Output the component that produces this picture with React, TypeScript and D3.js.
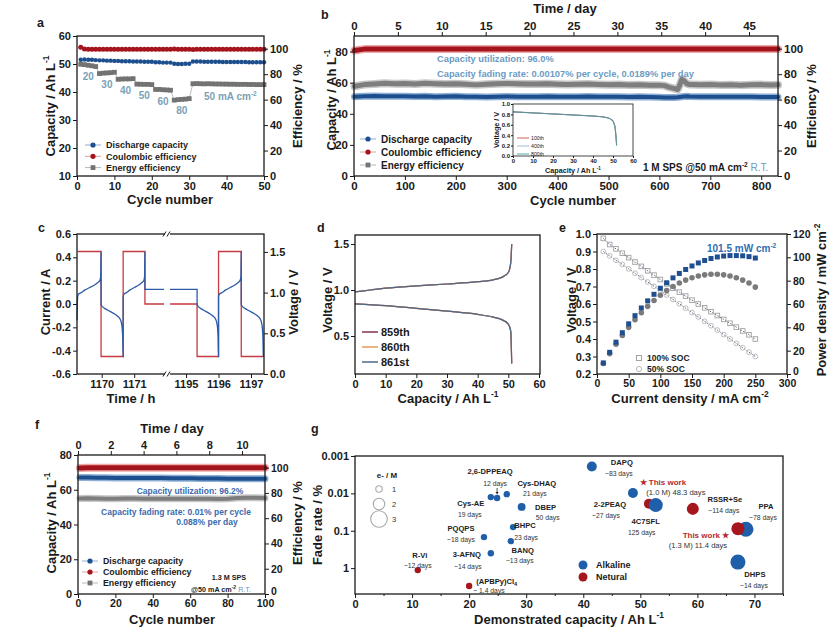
import React, { useEffect, useRef } from "react";
import * as d3 from "d3";

const FONT = "'Liberation Sans', Arial, Helvetica, sans-serif";
const INK = "#1a1a1a";
const BLUE = "#1d4f8e";
const RED = "#a3141c";
const GRAY = "#737373";
const NOTE = "#6b9bc3";
const NOTE_DARK = "#3a69ae";
const ALK = "#1f5ea8";
const NEU = "#a5161d";

// ---- a: rate capability (cycles 1-50)
const aCycles = d3.range(1, 51);
const aCapacity = [
  51.5, 51.6, 51.5, 51.5, 51.4, 51.3, 51.3, 51.2, 51.2, 51.1,
  51.1, 51.0, 51.0, 51.0, 50.9, 50.9, 50.9, 50.8, 50.8, 50.8,
  50.6, 50.6, 50.5, 50.5, 50.5, 50.1, 50.0, 50.0, 50.1, 50.1,
  50.9, 50.9, 50.9, 50.8, 50.8, 50.8, 50.8, 50.8, 50.7, 50.7,
  50.7, 50.7, 50.7, 50.7, 50.7, 50.6, 50.6, 50.6, 50.6, 50.6,
];
const aCoulombic = [
  101.2, 99.8, 99.6, 99.6, 99.5, 99.5, 99.5, 99.6, 99.5, 99.5,
  99.5, 99.5, 99.6, 99.5, 99.5, 99.5, 99.5, 99.5, 99.6, 99.5,
  99.5, 99.6, 99.5, 99.5, 99.5, 99.7, 99.6, 99.6, 99.6, 99.6,
  99.4, 99.5, 99.5, 99.5, 99.5, 99.5, 99.5, 99.5, 99.5, 99.5,
  99.5, 99.5, 99.5, 99.5, 99.5, 99.5, 99.5, 99.5, 99.5, 99.5,
];
const aEnergy = [
  87.8, 87.5, 87.0, 86.6, 86.0, 80.5, 80.8, 81.0, 81.2, 81.5,
  76.0, 76.2, 76.3, 76.3, 76.5, 72.2, 72.1, 72.0, 72.0, 71.8,
  68.0, 68.0, 67.8, 67.6, 67.4, 59.6, 60.0, 60.2, 60.4, 60.8,
  72.5, 72.6, 72.5, 72.4, 72.5, 72.4, 72.3, 72.3, 72.2, 72.2,
  72.1, 72.1, 72.0, 72.0, 72.0, 71.9, 71.9, 71.8, 71.8, 71.8,
];
const aRateLabels = ["20", "30", "40", "50", "60", "80"];
const aRateAt = [3, 8, 13, 18, 23, 28];

// ---- b: long-term cycling, 1 M SPS
const bCycles = [
  1, 20, 40, 60, 80, 100, 120, 140, 160, 180,
  200, 220, 240, 260, 280, 300, 320, 340, 360, 380,
  400, 420, 440, 460, 480, 500, 520, 540, 560, 580,
  600, 610, 620, 630, 636, 640, 644, 648, 654, 660,
  680, 700, 720, 740, 760, 780, 800, 820, 833,
];
const bCapacity = [
  51.0, 51.3, 51.4, 51.2, 51.3, 51.2, 51.1, 51.2, 51.0, 51.1,
  51.2, 51.0, 50.9, 50.8, 51.0, 51.1, 51.0, 50.9, 51.0, 51.1,
  51.0, 50.9, 51.0, 51.1, 51.0, 50.9, 50.9, 50.8, 50.9, 50.8,
  50.6, 50.5, 50.4, 50.5, 50.6, 50.8, 51.0, 51.1, 51.2, 51.1,
  51.0, 51.0, 50.9, 51.0, 50.9, 50.9, 50.8, 50.8, 50.8,
];
const bCoulombic = [
  98.6, 99.7, 99.8, 99.7, 99.8, 99.7, 99.8, 99.7, 99.8, 99.7,
  99.8, 99.7, 99.8, 99.7, 99.8, 99.7, 99.8, 99.7, 99.8, 99.7,
  99.8, 99.7, 99.8, 99.7, 99.8, 99.7, 99.8, 99.7, 99.8, 99.7,
  99.8, 99.7, 99.8, 99.7, 99.8, 99.7, 99.8, 99.7, 99.8, 99.7,
  99.8, 99.7, 99.8, 99.7, 99.8, 99.7, 99.8, 99.7, 99.8,
];
const bEnergy = [
  70.5, 71.8, 72.3, 72.8, 72.4, 72.6, 72.2, 72.8, 72.5, 72.2,
  72.4, 72.0, 71.6, 72.0, 72.4, 72.7, 72.5, 72.2, 72.3, 72.5,
  72.1, 71.8, 72.0, 72.2, 71.9, 71.7, 71.8, 71.5, 71.7, 71.4,
  71.4, 71.0, 69.6, 68.6, 68.0, 71.5, 76.0, 75.0, 72.5, 71.8,
  71.6, 71.8, 71.5, 71.7, 71.4, 71.6, 71.8, 71.5, 71.6,
];
// inset: discharge curves
const insetCapacity = [0, 5, 10, 20, 30, 40, 45, 48, 50, 51, 51.5, 51.8];
const inset100th = [0.85, 0.84, 0.83, 0.81, 0.79, 0.77, 0.755, 0.73, 0.68, 0.58, 0.4, 0.22];
const inset400th = [0.85, 0.84, 0.83, 0.81, 0.79, 0.77, 0.753, 0.728, 0.678, 0.57, 0.38, 0.21];
const inset800th = [0.848, 0.838, 0.828, 0.808, 0.788, 0.768, 0.752, 0.726, 0.675, 0.56, 0.36, 0.2];
const insetNames = ["100th", "400th", "800th"];
const insetColors = ["#c8504a", "#8fb8d8", "#3fa39b"];

// ---- c: current / voltage vs time
const cStepStart = [1169.26, 1169.98, 1170.66, 1171.33, 1195.34, 1196.0, 1196.7];
const cStepEnd = [1169.98, 1170.66, 1171.33, 1195.34, 1196.0, 1196.7, 1197.38];
const cStepMode = ["charge", "discharge", "charge", "rest", "discharge", "charge", "discharge"];
const cCurrent: Record<string, number> = { charge: 0.45, discharge: -0.45, rest: 0 };
const cLeadIn = [1169.24, 0.66];
const cRestVoltage = 1.04;
const chargeFrac = [0, 0.03, 0.15, 0.3, 0.5, 0.7, 0.85, 0.95, 0.985, 1];
const chargeVolt = [0.95, 0.98, 1.0, 1.03, 1.06, 1.09, 1.12, 1.15, 1.2, 1.5];
const dischargeFrac = [0, 0.05, 0.2, 0.4, 0.6, 0.75, 0.87, 0.94, 0.98, 1];
const dischargeVolt = [0.85, 0.83, 0.8, 0.77, 0.74, 0.71, 0.67, 0.6, 0.45, 0.21];
const cTicks = [1170, 1171, 1195, 1196, 1197];

// ---- d: charge/discharge profiles
const dChargeCap = [0, 5, 10, 20, 30, 40, 45, 48, 50, 50.8, 51.1];
const dChargeV = [0.98, 1.0, 1.02, 1.045, 1.065, 1.09, 1.11, 1.14, 1.19, 1.3, 1.5];
const dDischargeCap = [0, 10, 20, 30, 40, 45, 48, 50, 50.8, 51.0, 51.1];
const dDischargeV = [0.85, 0.83, 0.8, 0.77, 0.735, 0.705, 0.675, 0.63, 0.55, 0.35, 0.2];
const dCycles = ["859th", "860th", "861st"];
const dColors = ["#86324f", "#e49a52", "#4d6a8c"];

// ---- e: polarization
const eCurrent = [10, 20, 30, 40, 50, 60, 70, 80, 90, 100, 110, 120, 130, 140, 150, 160, 170, 180, 190, 200, 210, 220, 230, 240, 250];
const eV100 = [0.975, 0.94, 0.915, 0.89, 0.865, 0.84, 0.815, 0.79, 0.765, 0.74, 0.715, 0.69, 0.668, 0.645, 0.622, 0.6, 0.578, 0.556, 0.534, 0.512, 0.49, 0.468, 0.446, 0.424, 0.4];
const eV50 = [0.9, 0.875, 0.85, 0.826, 0.801, 0.776, 0.751, 0.726, 0.701, 0.676, 0.651, 0.626, 0.601, 0.576, 0.551, 0.526, 0.501, 0.476, 0.451, 0.425, 0.4, 0.375, 0.35, 0.325, 0.3];
const eP100 = [9.5, 18.6, 27.3, 35.4, 43.0, 50.0, 56.6, 62.7, 68.3, 73.5, 78.2, 82.4, 86.2, 89.6, 92.6, 95.2, 97.3, 99.0, 100.3, 101.1, 101.5, 101.5, 101.3, 100.6, 99.4];
const eP50 = [9.0, 17.5, 25.5, 33.0, 40.0, 46.5, 52.5, 58.0, 63.0, 67.5, 71.5, 75.0, 78.0, 80.5, 82.5, 84.0, 85.0, 85.5, 85.5, 85.0, 84.0, 82.5, 80.5, 78.0, 74.5];

// ---- f: 1.3 M SPS cycling
const fCycles = [1, 5, 10, 15, 20, 25, 30, 35, 40, 45, 50, 55, 60, 65, 70, 75, 80, 85, 90, 95, 100];
const fCapacity = [67.1, 67.0, 66.9, 66.9, 66.8, 66.8, 66.8, 66.7, 66.7, 66.7, 66.6, 66.6, 66.6, 66.5, 66.5, 66.5, 66.4, 66.4, 66.4, 66.3, 66.3];
const fCoulombic = [99.8, 100.0, 100.0, 100.0, 100.0, 100.0, 100.0, 100.0, 100.0, 100.0, 100.0, 100.0, 100.0, 100.0, 100.0, 100.0, 100.0, 100.0, 100.0, 100.0, 100.0];
const fEnergy = [75.6, 75.8, 75.6, 75.4, 75.3, 75.5, 75.5, 75.4, 75.4, 75.3, 75.3, 75.3, 75.4, 75.3, 75.3, 75.2, 75.3, 76.0, 76.2, 76.1, 75.9];

// ---- g: literature comparison
const gNames = [
  "R-Vi", "(APBPy)Cl4", "3-AFNQ", "PQQPS", "BANQ", "BHPC", "Cys-AE", "2,6-DPPEAQ", "Cys-DHAQ",
  "DBEP", "DAPQ", "2-2PEAQ", "★ This work", "4C7SFL", "RSSR+Se", "PPA", "This work ★", "DHPS",
];
const gDays = [
  "~12 days", "~ 1.4 days", "~14 days", "~18 days", "~13 days", "23 days", "19 days", "12 days", "21 days",
  "50 days", "~83 days", "~27 days", "(1.0 M) 48.3 days", "125 days", "~114 days", "~78 days", "(1.3 M)  11.4 days", "~14 days",
];
const gCapacity = [11.0, 20.0, 23.8, 22.6, 27.3, 27.7, 23.8, 24.9, 26.6, 29.2, 41.5, 48.7, 51.5, 52.7, 59.2, 68.5, 67.1, 67.1];
const gFade = [1.13, 3.0, 0.4, 0.148, 0.19, 0.08, 0.0126, 0.0133, 0.0105, 0.023, 0.0019, 0.0098, 0.0189, 0.0206, 0.026, 0.091, 0.088, 0.69];
const gElectrons = [1, 1, 1, 1, 1, 1, 1, 1, 1, 1.3, 1.7, 1.7, 1.7, 2.5, 2.1, 2.7, 2.3, 2.7];
const gType = ["N", "N", "A", "A", "A", "A", "A", "A", "A", "A", "A", "A", "N", "A", "N", "A", "N", "A"];
// label offsets from the point: name dx, dy, days dx, dy
const gLabelLayout: [number, number, number, number][] = [
  [2, -12, 0, -2], [7, -2, 4, 7], [-24, 4, -23, 16], [-23, -6, -23, 5], [12, 12, 9, 22],
  [12, 1, 13, 13], [-20, 9, -21, 20], [-7, -24, -2, -12], [30, -8, 28, 2], [24, 3, 26, 13],
  [30, -1, 27, 10], [-23, 14, -27, 25], [14, -19, 27, -9], [-10, 19, -14, 30], [32, -7, 31, 4],
  [20, -20, 17, -9], [-32, 9, -40, 19], [17, 15, 16, 26],
];
const gLegendElectrons = [1, 2, 3];

type Sel = d3.Selection<any, any, any, any>;

function label(g: Sel, x: number, y: number, s: string, size: number, opts: any = {}) {
  return g
    .append("text")
    .attr("x", x)
    .attr("y", y)
    .attr("font-family", FONT)
    .attr("font-size", size)
    .attr("font-weight", opts.weight ?? "bold")
    .attr("fill", opts.fill ?? INK)
    .attr("text-anchor", opts.anchor ?? "start")
    .text(s);
}

// axis title with an optional superscript, centred on (cx, cy)
function title(g: Sel, cx: number, cy: number, base: string, sup = "", rotate = false, size = 13) {
  const t = g
    .append("g")
    .attr("transform", `translate(${cx},${cy})${rotate ? " rotate(-90)" : ""}`)
    .append("text")
    .attr("text-anchor", "middle")
    .attr("dy", "0.35em")
    .attr("font-family", FONT)
    .attr("font-size", size)
    .attr("font-weight", "bold")
    .attr("fill", INK);
  t.append("tspan").text(base);
  if (sup) t.append("tspan").attr("font-size", size * 0.65).attr("dy", -size * 0.42).text(sup);
  return t;
}

function frame(g: Sel, x0: number, y0: number, x1: number, y1: number, w = 1.3) {
  g.append("rect")
    .attr("x", x0)
    .attr("y", y0)
    .attr("width", x1 - x0)
    .attr("height", y1 - y0)
    .attr("fill", "none")
    .attr("stroke", INK)
    .attr("stroke-width", w);
}

function axis(g: Sel, scale: any, side: string, at: number, ticks: number[], opts: any = {}) {
  const make: any =
    side === "bottom" ? d3.axisBottom : side === "top" ? d3.axisTop : side === "left" ? d3.axisLeft : d3.axisRight;
  const len = opts.len ?? 4;
  const horiz = side === "bottom" || side === "top";
  const tr = horiz ? `translate(0,${at})` : `translate(${at},0)`;
  const ax = make(scale)
    .tickValues(ticks)
    .tickSizeInner(len)
    .tickSizeOuter(0)
    .tickPadding(opts.pad ?? 2)
    .tickFormat(opts.fmt ?? ((d: number) => String(d)));
  const a = g.append("g").attr("transform", tr).call(ax);
  a.select(".domain").remove();
  a.selectAll("line").attr("stroke", INK).attr("stroke-width", 1);
  a.selectAll("text")
    .attr("font-family", FONT)
    .attr("font-size", opts.size ?? 11)
    .attr("font-weight", "bold")
    .attr("fill", INK);
  // lift the lowest label a little where it meets the bottom axis labels
  if (opts.lift0) a.selectAll("text").filter((d: any) => d === ticks[0]).attr("y", -opts.lift0);
  if (opts.minor) {
    const m = g
      .append("g")
      .attr("transform", tr)
      .call(make(scale).tickValues(opts.minor).tickSizeInner(len / 2).tickSizeOuter(0).tickFormat(() => ""));
    m.select(".domain").remove();
    m.selectAll("line").attr("stroke", INK).attr("stroke-width", 1);
  }
  return a;
}

function series(g: Sel, xs: number[], ys: number[], x: any, y: any, color: string, shape: string, r: number, lineColor?: string) {
  const pts = d3.zip(xs, ys) as [number, number][];
  g.append("path")
    .datum(pts)
    .attr("fill", "none")
    .attr("stroke", lineColor ?? color)
    .attr("stroke-width", 0.8)
    .attr("d", d3.line<[number, number]>().x((d) => x(d[0])).y((d) => y(d[1])));
  const m = g.append("g");
  if (shape === "circle")
    m.selectAll("circle").data(pts).join("circle")
      .attr("cx", (d) => x(d[0])).attr("cy", (d) => y(d[1])).attr("r", r).attr("fill", color);
  else
    m.selectAll("rect").data(pts).join("rect")
      .attr("x", (d) => x(d[0]) - r).attr("y", (d) => y(d[1]) - r)
      .attr("width", 2 * r).attr("height", 2 * r).attr("fill", color);
}

// thick band style used for long cycling data
function band(g: Sel, xs: number[], ys: number[], x: any, y: any, color: string, halo: string, w: number) {
  const pts = d3.zip(xs, ys) as [number, number][];
  const line = d3.line<[number, number]>().x((d) => x(d[0])).y((d) => y(d[1]));
  g.append("path").datum(pts).attr("d", line).attr("fill", "none")
    .attr("stroke", halo).attr("stroke-width", w + 3).attr("stroke-linejoin", "round").attr("stroke-linecap", "round");
  g.append("path").datum(pts).attr("d", line).attr("fill", "none")
    .attr("stroke", color).attr("stroke-width", w).attr("stroke-linejoin", "round").attr("stroke-linecap", "round");
}

function cycleLegend(g: Sel, x: number, y0: number, dy: number, size: number) {
  const names = ["Discharge capacity", "Coulombic efficiency", "Energy efficiency"];
  const cols = [BLUE, RED, GRAY];
  const lines = ["#8fb0d6", "#e0a0a0", "#b8b8b8"];
  names.forEach((n, i) => {
    const y = y0 + i * dy;
    g.append("line").attr("x1", x - 8).attr("x2", x + 8).attr("y1", y).attr("y2", y).attr("stroke", lines[i]).attr("stroke-width", 1);
    if (i < 2) g.append("circle").attr("cx", x).attr("cy", y).attr("r", 2.6).attr("fill", cols[i]);
    else g.append("rect").attr("x", x - 2.4).attr("y", y - 2.4).attr("width", 4.8).attr("height", 4.8).attr("fill", cols[i]);
    label(g, x + 13, y + size * 0.36, n, size);
  });
}

function drawA(g: Sel) {
  const x = d3.scaleLinear().domain([0, 50]).range([77, 264]);
  const yL = d3.scaleLinear().domain([10, 60]).range([176, 36]);
  const yR = d3.scaleLinear().domain([0, 110]).range([176, 36]);
  series(g, aCycles, aEnergy, x, yR, GRAY, "square", 2.4, "#b0b0b0");
  series(g, aCycles, aCapacity, x, yL, BLUE, "circle", 2.2, "#7fa3cf");
  series(g, aCycles, aCoulombic, x, yR, RED, "circle", 2.5, "#d88");
  aRateLabels.forEach((t, i) => {
    const c = aRateAt[i];
    label(g, x(c), yR(aEnergy[c - 1]) + 15, t, 10, { anchor: "middle", fill: "#7d9fb5" });
  });
  const t = label(g, x(41), yR(aEnergy[40]) + 16, "50 mA cm", 10, { anchor: "middle", fill: "#7d9fb5" });
  t.append("tspan").attr("font-size", 6.5).attr("dy", -4).text("-2");
  cycleLegend(g, 93, 145, 11.3, 9);
  frame(g, 77, 36, 264, 176);
  axis(g, x, "bottom", 176, [0, 10, 20, 30, 40, 50]);
  axis(g, yL, "left", 77, [10, 20, 30, 40, 50, 60]);
  axis(g, yR, "right", 264, [0, 20, 40, 60, 80, 100]);
  title(g, 170, 199, "Cycle number");
  title(g, 50, 106, "Capacity / Ah L", "-1", true);
  title(g, 297, 106, "Efficiency / %", "", true);
  label(g, 37, 27, "a", 12.5);
}

function drawB(g: Sel) {
  const x = d3.scaleLinear().domain([0, 833]).range([354, 778]);
  const xt = d3.scaleLinear().domain([0, 48.3]).range([354, 778]);
  const yL = d3.scaleLinear().domain([0, 90]).range([176, 36]);
  const yR = d3.scaleLinear().domain([0, 110]).range([176, 36]);
  band(g, bCycles, bEnergy, x, yR, "#7e7e7e", "#c8c8c8", 5);
  band(g, bCycles, bCapacity, x, yL, BLUE, "#8fb0d6", 4);
  band(g, bCycles, bCoulombic, x, yR, RED, "#f0a8a8", 5);
  label(g, 437, 62, "Capacity utilization: 96.0%", 9.3, { fill: NOTE });
  label(g, 437, 77, "Capacity fading rate: 0.00107% per cycle, 0.0189% per day", 9.3, { fill: NOTE });
  cycleLegend(g, 368, 139, 13, 10);
  const note = label(g, 643, 171, "1 M SPS @50 mA cm", 10);
  note.append("tspan").attr("font-size", 6.5).attr("dy", -4).text("-2");
  note.append("tspan").attr("dy", 4).attr("fill", NOTE).attr("font-weight", "normal").text(" R.T.");

  // inset
  const ix = d3.scaleLinear().domain([0, 60]).range([513, 633]);
  const iy = d3.scaleLinear().domain([0, 1.0]).range([156, 104]);
  const ig = g.append("g");
  [inset100th, inset400th, inset800th].forEach((v, i) => {
    ig.append("path")
      .datum(d3.zip(insetCapacity, v) as [number, number][])
      .attr("fill", "none")
      .attr("stroke", insetColors[i])
      .attr("stroke-width", 0.8)
      .attr("d", d3.line<[number, number]>().x((d) => ix(d[0])).y((d) => iy(d[1])));
  });
  ig.append("path")
    .datum(d3.zip(insetCapacity, inset800th) as [number, number][])
    .attr("fill", "none").attr("stroke", "#6c8796").attr("stroke-width", 0.7)
    .attr("d", d3.line<[number, number]>().x((d) => ix(d[0])).y((d) => iy(d[1])));
  insetNames.forEach((n, i) => {
    const y = 138 + i * 8;
    ig.append("line").attr("x1", 517).attr("x2", 529).attr("y1", y).attr("y2", y).attr("stroke", insetColors[i]).attr("stroke-width", 0.9);
    label(ig, 531, y + 2, n, 5.2, { weight: "normal" });
  });
  frame(ig, 513, 104, 633, 156, 0.8);
  axis(ig, ix, "bottom", 156, [0, 10, 20, 30, 40, 50, 60], { size: 6, len: 2, pad: 1 });
  axis(ig, iy, "left", 513, [0, 0.2, 0.4, 0.6, 0.8, 1.0], { size: 6, len: 2, pad: 1, fmt: (d: number) => d.toFixed(1) });
  title(ig, 573, 170, "Capacity / Ah L", "-1", false, 7.2);
  title(ig, 496, 130, "Voltage / V", "", true, 7.2);

  frame(g, 354, 36, 778, 176);
  axis(g, x, "bottom", 176, [0, 100, 200, 300, 400, 500, 600, 700, 800], { size: 11.5 });
  axis(g, xt, "top", 36, [0, 5, 10, 15, 20, 25, 30, 35, 40, 45], { size: 11.5 });
  axis(g, yL, "left", 354, [0, 20, 40, 60, 80], { size: 11.5 });
  axis(g, yR, "right", 778, [0, 20, 40, 60, 80, 100], { size: 11.5 });
  title(g, 573, 200, "Cycle number");
  title(g, 565, 8, "Time / day");
  title(g, 331, 100, "Capacity / Ah L", "-1", true);
  title(g, 811, 106, "Efficiency / %", "", true);
  label(g, 321, 19, "b", 12.5);
}

function drawC(g: Sel) {
  // broken time axis: two windows joined at the break mark
  const x = d3.scaleLinear().domain([1169.24, 1172.0, 1194.5, 1197.4]).range([77, 166.7, 169.8, 264]);
  const yL = d3.scaleLinear().domain([-0.6, 0.6]).range([374, 234]);
  const yR = d3.scaleLinear().domain([0, 1.72]).range([374, 234]);

  const cur: [number, number][] = [];
  const volt: [number, number][] = [[cLeadIn[0], cLeadIn[1]]];
  cStepMode.forEach((mode, i) => {
    const s = cStepStart[i];
    const e = cStepEnd[i];
    cur.push([s, cCurrent[mode]], [e, cCurrent[mode]]);
    if (mode === "rest") volt.push([s, cRestVoltage], [e, cRestVoltage]);
    else {
      const fr = mode === "charge" ? chargeFrac : dischargeFrac;
      const vv = mode === "charge" ? chargeVolt : dischargeVolt;
      fr.forEach((f, k) => volt.push([s + f * (e - s), vv[k]]));
    }
  });
  g.append("path").datum(cur).attr("fill", "none").attr("stroke", "#c43a42").attr("stroke-width", 1.3)
    .attr("d", d3.line<[number, number]>().x((d) => x(d[0])).y((d) => yL(d[1])));
  g.append("path").datum(volt).attr("fill", "none").attr("stroke", "#2c5ca6").attr("stroke-width", 1.3)
    .attr("d", d3.line<[number, number]>().x((d) => x(d[0])).y((d) => yR(d[1])).curve(d3.curveMonotoneX));
  // gap at the break
  g.append("rect").attr("x", 164).attr("y", 236).attr("width", 6).attr("height", 136).attr("fill", "#fff");

  frame(g, 77, 234, 264, 374);
  [234, 374].forEach((yy) => {
    g.append("rect").attr("x", 165).attr("y", yy - 2).attr("width", 5).attr("height", 4).attr("fill", "#fff");
    [164.5, 168.5].forEach((bx) =>
      g.append("line").attr("x1", bx - 1.5).attr("x2", bx + 1.5).attr("y1", yy + 2.5).attr("y2", yy - 2.5)
        .attr("stroke", INK).attr("stroke-width", 1)
    );
  });
  axis(g, x, "bottom", 374, cTicks);
  axis(g, yL, "left", 77, [-0.6, -0.4, -0.2, 0, 0.2, 0.4, 0.6], { fmt: (d: number) => d.toFixed(1) });
  axis(g, yR, "right", 264, [0, 0.5, 1.0, 1.5], { fmt: (d: number) => d.toFixed(1) });
  title(g, 131, 398, "Time / h");
  title(g, 45, 302, "Current / A", "", true);
  title(g, 293, 302, "Voltage / V", "", true);
  label(g, 38, 232, "c", 12.5);
}

function drawD(g: Sel) {
  const x = d3.scaleLinear().domain([0, 60]).range([355, 539]);
  const y = d3.scaleLinear().domain([0.1, 1.6]).range([372.8, 234.8]);
  dCycles.forEach((_, i) => {
    [d3.zip(dChargeCap, dChargeV), d3.zip(dDischargeCap, dDischargeV)].forEach((pts) =>
      g.append("path").datum(pts as [number, number][]).attr("fill", "none")
        .attr("stroke", dColors[i]).attr("stroke-width", 1.2)
        .attr("d", d3.line<[number, number]>().x((d) => x(d[0])).y((d) => y(d[1])).curve(d3.curveMonotoneX))
    );
  });
  dCycles.forEach((n, i) => {
    const yy = 332 + i * 15;
    g.append("line").attr("x1", 362).attr("x2", 378).attr("y1", yy).attr("y2", yy).attr("stroke", dColors[i]).attr("stroke-width", 1.5);
    label(g, 381, yy + 4, n, 11);
  });
  frame(g, 355, 235, 540, 374);
  axis(g, x, "bottom", 374, [0, 10, 20, 30, 40, 50, 60]);
  axis(g, y, "left", 355, [0.5, 1.0, 1.5], { fmt: (d: number) => d.toFixed(1) });
  title(g, 448, 398, "Capacity / Ah L", "-1");
  title(g, 327, 300, "Voltage / V", "", true);
  label(g, 317, 232, "d", 12.5);
}

function drawE(g: Sel) {
  const x = d3.scaleLinear().domain([0, 300]).range([597, 787]);
  const yL = d3.scaleLinear().domain([0.2, 1.0]).range([374, 234]);
  const yR = d3.scaleLinear().domain([0, 120]).range([374, 234]);
  const dotted = (v: number[]) =>
    g.append("path").datum(d3.zip(eCurrent, v) as [number, number][]).attr("fill", "none")
      .attr("stroke", "#45597a").attr("stroke-width", 0.9).attr("stroke-dasharray", "1.5,1.5")
      .attr("d", d3.line<[number, number]>().x((d) => x(d[0])).y((d) => yL(d[1])));
  dotted(eV100);
  dotted(eV50);
  const sq = (xs: number[], ys: number[], ys2: any, fill: string, stroke: string, r: number) =>
    g.append("g").selectAll("rect").data(d3.zip(xs, ys)).join("rect")
      .attr("x", (d) => x(d[0]) - r).attr("y", (d) => ys2(d[1]) - r).attr("width", 2 * r).attr("height", 2 * r)
      .attr("fill", fill).attr("stroke", stroke).attr("stroke-width", 0.9);
  const ci = (xs: number[], ys: number[], ys2: any, fill: string, stroke: string, r: number) =>
    g.append("g").selectAll("circle").data(d3.zip(xs, ys)).join("circle")
      .attr("cx", (d) => x(d[0])).attr("cy", (d) => ys2(d[1])).attr("r", r)
      .attr("fill", fill).attr("stroke", stroke).attr("stroke-width", 0.9);
  sq(eCurrent, eV100, yL, "none", "#a0a0a0", 2.3);
  ci(eCurrent, eV50, yL, "none", "#b5b5b5", 2.4);
  ci(eCurrent, eP50, yR, "#7a7a7a", "none", 2.8);
  sq(eCurrent, eP100, yR, "#1f4f8f", "none", 2.5);
  const t = label(g, 707, 252, "101.5 mW cm", 10, { fill: "#2f6db5" });
  t.append("tspan").attr("font-size", 6.5).attr("dy", -4).text("-2");
  g.append("rect").attr("x", 636.5).attr("y", 355.5).attr("width", 5).attr("height", 5).attr("fill", "none").attr("stroke", "#9a9a9a").attr("stroke-width", 0.9);
  g.append("circle").attr("cx", 639).attr("cy", 369).attr("r", 2.6).attr("fill", "none").attr("stroke", "#b0b0b0").attr("stroke-width", 0.9);
  label(g, 647, 361, "100% SOC", 8.5);
  label(g, 647, 372, "50% SOC", 8.5);
  frame(g, 597, 234, 787, 374);
  axis(g, x, "bottom", 374, [0, 50, 100, 150, 200, 250, 300], { size: 10.5 });
  axis(g, yL, "left", 597, [0.2, 0.3, 0.4, 0.5, 0.6, 0.7, 0.8, 0.9, 1.0], { fmt: (d: number) => d.toFixed(1) });
  axis(g, yR, "right", 787, [0, 20, 40, 60, 80, 100, 120], { size: 10.5, lift0: 3 });
  title(g, 690, 398, "Current density / mA cm", "-2");
  title(g, 571, 300, "Voltage / V", "", true);
  title(g, 821, 300, "Power density / mW cm", "-2", true);
  label(g, 559, 232, "e", 12.5);
}

function drawF(g: Sel) {
  const x = d3.scaleLinear().domain([0, 100]).range([78, 265]);
  const xt = d3.scaleLinear().domain([0, 11.4]).range([78, 265]);
  const yL = d3.scaleLinear().domain([0, 80]).range([594, 455]);
  const yR = d3.scaleLinear().domain([0, 110]).range([594, 455]);
  band(g, fCycles, fEnergy, x, yR, "#7e7e7e", "#c8c8c8", 4);
  band(g, fCycles, fCapacity, x, yL, BLUE, "#8fb0d6", 4);
  band(g, fCycles, fCoulombic, x, yR, RED, "#f0a8a8", 5);
  label(g, 190, 494, "Capacity utilization: 96.2%", 8.5, { anchor: "middle", fill: NOTE_DARK });
  label(g, 176, 515, "Capacity fading rate: 0.01% per cycle", 8.5, { anchor: "middle", fill: NOTE_DARK });
  label(g, 207, 524.5, "0.088% per day", 8.5, { anchor: "middle", fill: NOTE_DARK });
  cycleLegend(g, 90, 561, 11, 8.8);
  label(g, 229, 580, "1.3 M SPS", 7.2, { anchor: "middle" });
  const n = label(g, 191, 592, "@50 mA cm", 7.2);
  n.append("tspan").attr("font-size", 5).attr("dy", -3).text("-2");
  n.append("tspan").attr("dy", 3).attr("fill", NOTE).attr("font-weight", "normal").text(" R.T.");
  frame(g, 78, 455, 265, 594);
  axis(g, x, "bottom", 594, [0, 20, 40, 60, 80, 100], { size: 10.5 });
  axis(g, xt, "top", 455, [0, 2, 4, 6, 8, 10]);
  axis(g, yL, "left", 78, [0, 20, 40, 60, 80]);
  axis(g, yR, "right", 265, [0, 20, 40, 60, 80, 100], { size: 10.5, lift0: 3 });
  title(g, 172, 619, "Cycle number");
  title(g, 172, 428, "Time / day");
  title(g, 51, 523, "Capacity / Ah L", "-1", true);
  title(g, 297, 523, "Efficiency / %", "", true);
  label(g, 35, 429, "f", 12.5);
}

function drawG(g: Sel) {
  const x = d3.scaleLinear().domain([0, 75]).range([355, 783]);
  const y = d3.scaleLog().domain([0.001, 4.93]).range([456, 594]);
  const r = d3.scaleLinear().domain([1, 3]).range([3.2, 8.3]);

  gNames.forEach((_, i) => {
    g.append("circle")
      .attr("cx", x(gCapacity[i]))
      .attr("cy", y(gFade[i]))
      .attr("r", r(gElectrons[i]))
      .attr("fill", gType[i] === "A" ? ALK : NEU);
  });
  gNames.forEach((name, i) => {
    const px = x(gCapacity[i]);
    const py = y(gFade[i]);
    const [ndx, ndy, ddx, ddy] = gLabelLayout[i];
    const mine = name.includes("This work");
    const anchor = i === 1 ? "start" : "middle";
    if (name.endsWith("Cl4")) {
      const t = label(g, px + ndx, py + ndy, "(APBPy)Cl", 7.6, { anchor });
      t.append("tspan").attr("font-size", 5.5).attr("dy", 2).text("4");
    } else label(g, px + ndx, py + ndy, name, mine ? 8 : 7.6, { anchor, fill: mine ? "#b52a30" : "#222" });
    label(g, px + ddx, py + ddy, gDays[i], mine ? 7.6 : 6.8, { anchor, weight: "normal", fill: "#333" });
  });
  // arrow for 2,6-DPPEAQ
  const ax = x(gCapacity[7]);
  const ay = y(gFade[7]);
  g.append("line").attr("x1", ax).attr("x2", ax).attr("y1", ay - 10).attr("y2", ay - 5).attr("stroke", "#222").attr("stroke-width", 0.8);
  g.append("path").attr("d", `M${ax - 1.5},${ay - 6}L${ax + 1.5},${ay - 6}L${ax},${ay - 3.5}Z`).attr("fill", "#222");

  // size legend
  label(g, 387, 478, "e- / M", 8, { anchor: "middle" });
  gLegendElectrons.forEach((e, i) => {
    const cy = [489, 504, 519][i];
    g.append("circle").attr("cx", 379).attr("cy", cy).attr("r", r(e)).attr("fill", "none").attr("stroke", "#a8a8a8").attr("stroke-width", 1.1);
    label(g, 392, cy + 3, String(e), 7.5, { weight: "normal", fill: "#333" });
  });
  // type legend
  [["Alkaline", ALK], ["Netural", NEU]].forEach(([n, c], i) => {
    const cy = 565 + i * 12;
    g.append("circle").attr("cx", 583).attr("cy", cy).attr("r", 4.5).attr("fill", c);
    label(g, 596, cy + 3.3, n, 9);
  });

  frame(g, 355, 456, 783, 594);
  axis(g, x, "bottom", 594, [0, 10, 20, 30, 40, 50, 60, 70], { minor: [5, 15, 25, 35, 45, 55, 65, 75], size: 11 });
  axis(g, y, "left", 355, [0.001, 0.01, 0.1, 1], { size: 11 });
  title(g, 569, 619, "Demonstrated capacity / Ah L", "-1");
  title(g, 317, 525, "Fade rate / %", "", true);
  label(g, 311, 433, "g", 12.5);
}

export default function App() {
  const ref = useRef<SVGSVGElement>(null);

  useEffect(() => {
    const svg = d3.select(ref.current);
    svg.selectAll("*").remove();
    svg.append("rect").attr("width", 830).attr("height", 632).attr("fill", "#fff");
    drawA(svg.append("g"));
    drawB(svg.append("g"));
    drawC(svg.append("g"));
    drawD(svg.append("g"));
    drawE(svg.append("g"));
    drawF(svg.append("g"));
    drawG(svg.append("g"));
  }, []);

  return (
    <svg
      ref={ref}
      width={830}
      height={632}
      style={{ position: "absolute", left: 0, top: 0, background: "#fff" }}
    />
  );
}
